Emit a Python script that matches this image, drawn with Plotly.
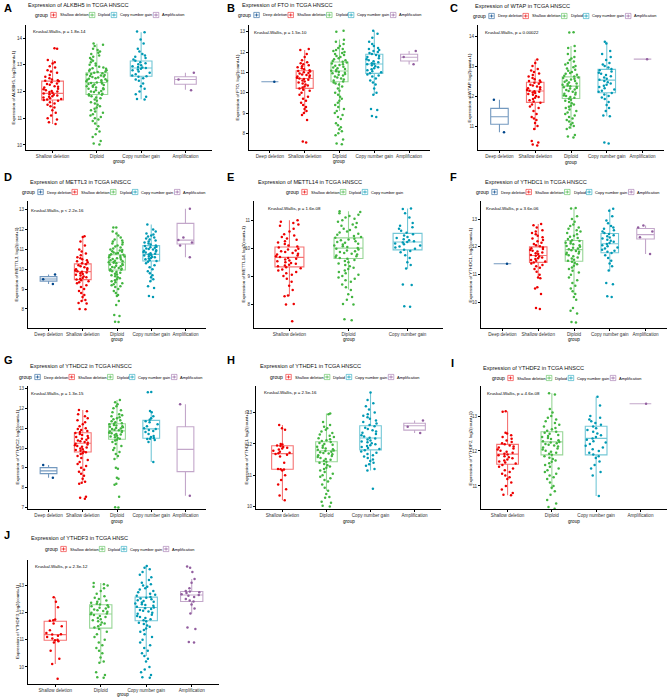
import plotly.graph_objects as go

W, H = 669, 698
FONT = "Liberation Sans, Arial, sans-serif"

# ---------------- categories / colours ----------------
GROUP_COLORS = {
    "Deep deletion": "#00468B",
    "Shallow deletion": "#ED0000",
    "Diploid": "#42B540",
    "Copy number gain": "#0099B4",
    "Amplification": "#925E9F",
}
G5 = ["Deep deletion", "Shallow deletion", "Diploid", "Copy number gain", "Amplification"]
G4 = ["Shallow deletion", "Diploid", "Copy number gain", "Amplification"]
G3 = ["Shallow deletion", "Diploid", "Copy number gain"]

# ---------------- A: ALKBH5 ----------------
ALKBH5_q1 = [11.68, 11.89, 12.57, 12.27]
ALKBH5_med = [11.93, 12.34, 12.88, 12.45]
ALKBH5_q3 = [12.39, 12.70, 13.14, 12.55]
ALKBH5_lo = [10.78, 10.70, 11.71, 12.07]
ALKBH5_hi = [13.19, 13.79, 14.22, 12.70]
ALKBH5_sh = [13.62,13.6,13.18,13.1,13.05,12.95,12.9,12.8,12.75,12.7,12.62,12.55,12.5,12.45,12.42,12.4,12.38,12.35,12.3,12.28,12.25,12.2,12.18,12.15,12.1,12.08,12.05,12.02,12.0,11.98,11.95,11.93,11.9,11.88,11.85,11.82,11.8,11.78,11.75,11.72,11.7,11.68,11.65,11.6,11.55,11.5,11.45,11.4,11.3,11.2,11.1,11.0,10.95,10.85,10.78]
ALKBH5_di = [13.8,13.75,13.7,13.6,13.55,13.5,13.45,13.4,13.35,13.3,13.25,13.2,13.15,13.1,13.05,13.0,12.97,12.93,12.9,12.87,12.85,12.82,12.8,12.78,12.75,12.73,12.7,12.68,12.66,12.64,12.62,12.6,12.58,12.56,12.54,12.52,12.5,12.48,12.46,12.44,12.42,12.4,12.38,12.36,12.34,12.32,12.3,12.28,12.26,12.24,12.22,12.2,12.18,12.15,12.12,12.1,12.08,12.05,12.02,12.0,11.98,11.95,11.92,11.9,11.88,11.85,11.82,11.78,11.75,11.7,11.65,11.6,11.55,11.5,11.45,11.4,11.35,11.3,11.25,11.2,11.15,11.1,11.05,11.0,10.95,10.9,10.8,10.7,10.6,10.5,10.4,10.3,10.15,10.05,10.02]
ALKBH5_cn = [14.25,14.22,13.95,13.8,13.6,13.5,13.4,13.35,13.3,13.25,13.2,13.15,13.1,13.06,13.02,12.98,12.95,12.92,12.9,12.88,12.85,12.82,12.8,12.75,12.7,12.65,12.6,12.57,12.55,12.5,12.45,12.4,12.3,12.2,12.1,12.0,11.9,11.8,11.72,11.7]
ALKBH5_am = [12.7, 12.45, 12.05]

# ---------------- B: FTO ----------------
FTO_q1 = [10.54, 10.21, 10.54, 10.95, 11.56]
FTO_med = [10.54, 10.70, 11.07, 11.41, 11.74]
FTO_q3 = [10.54, 11.08, 11.51, 11.89, 11.89]
FTO_lo = [10.54, 8.98, 9.10, 9.89, 11.39]
FTO_hi = [10.54, 12.10, 12.62, 13.05, 12.05]
FTO_dd = [10.54]
FTO_sh = [12.15,12.1,11.9,11.75,11.6,11.5,11.45,11.4,11.35,11.3,11.25,11.2,11.15,11.1,11.07,11.04,11.0,10.97,10.94,10.9,10.87,10.84,10.8,10.77,10.74,10.7,10.67,10.64,10.6,10.55,10.5,10.45,10.4,10.35,10.3,10.25,10.2,10.15,10.1,10.0,9.9,9.8,9.7,9.6,9.5,9.4,9.3,9.2,9.1,9.0,8.9,8.65,7.6,7.55]
FTO_di = [13.05,13.0,12.6,12.5,12.4,12.3,12.2,12.15,12.1,12.05,12.0,11.95,11.9,11.85,11.8,11.75,11.7,11.65,11.6,11.56,11.52,11.48,11.44,11.4,11.36,11.32,11.28,11.24,11.2,11.16,11.12,11.08,11.05,11.02,10.98,10.95,10.92,10.88,10.85,10.8,10.75,10.7,10.65,10.6,10.55,10.5,10.45,10.4,10.3,10.2,10.1,10.0,9.9,9.8,9.7,9.6,9.5,9.4,9.3,9.2,9.1,9.0,8.9,8.8,8.7,8.5,8.4,8.3,8.2,8.1,8.0,7.9,7.7,7.5,7.46]
FTO_cn = [13.05,12.9,12.7,12.5,12.4,12.3,12.2,12.15,12.1,12.05,12.0,11.95,11.9,11.85,11.8,11.75,11.7,11.65,11.6,11.55,11.5,11.45,11.42,11.4,11.35,11.3,11.25,11.2,11.15,11.1,11.05,11.0,10.95,10.9,10.85,10.8,10.7,10.6,10.5,10.4,10.2,10.0,9.9,9.2,9.15,8.85,8.8]
FTO_am = [12.05, 11.75, 11.4]

# ---------------- C: WTAP ----------------
WTAP_q1 = [11.06, 11.79, 11.92, 12.11, 13.23]
WTAP_med = [11.31, 12.17, 12.33, 12.53, 13.23]
WTAP_q3 = [11.59, 12.46, 12.64, 12.89, 13.23]
WTAP_lo = [10.79, 10.87, 10.90, 11.33, 13.23]
WTAP_hi = [11.88, 13.22, 13.67, 13.81, 13.23]
WTAP_dd = [11.88, 10.79]
WTAP_sh = [13.22,13.1,13.0,12.9,12.85,12.8,12.75,12.7,12.65,12.6,12.56,12.52,12.5,12.47,12.44,12.41,12.38,12.35,12.32,12.29,12.26,12.23,12.2,12.18,12.16,12.14,12.12,12.1,12.07,12.04,12.0,11.97,11.94,11.9,11.86,11.82,11.78,11.72,11.65,11.6,11.5,11.4,11.3,11.25,11.2,11.1,11.0,10.9,10.5,10.45,10.38,10.35]
WTAP_di = [14.13,14.12,13.67,13.6,13.5,13.4,13.3,13.25,13.2,13.15,13.1,13.05,13.0,12.96,12.92,12.88,12.84,12.8,12.77,12.74,12.71,12.68,12.65,12.62,12.6,12.58,12.55,12.52,12.5,12.48,12.45,12.42,12.4,12.38,12.35,12.33,12.31,12.29,12.27,12.25,12.22,12.2,12.17,12.14,12.11,12.08,12.05,12.02,12.0,11.97,11.94,11.91,11.88,11.84,11.8,11.76,11.72,11.68,11.64,11.6,11.55,11.5,11.45,11.4,11.35,11.3,11.25,11.2,11.15,11.1,11.05,11.0,10.95,10.9,10.7,10.65,10.62]
WTAP_cn = [13.81,13.75,13.5,13.4,13.3,13.2,13.1,13.05,13.0,12.95,12.9,12.86,12.82,12.78,12.74,12.7,12.66,12.62,12.58,12.54,12.5,12.46,12.42,12.38,12.34,12.3,12.26,12.22,12.18,12.14,12.1,12.05,12.0,11.95,11.9,11.8,11.7,11.6,11.5,11.35,11.33,10.45,10.42]
WTAP_am = [13.23]

# ---------------- D: METTL3 ----------------
METTL3_q1 = [9.40, 9.48, 9.96, 10.42, 11.27]
METTL3_med = [9.51, 9.88, 10.35, 10.75, 11.47]
METTL3_q3 = [9.63, 10.27, 10.73, 11.19, 12.31]
METTL3_lo = [9.26, 8.39, 8.65, 9.40, 10.60]
METTL3_hi = [9.73, 11.66, 11.90, 12.25, 13.05]
METTL3_dd = [9.73, 9.5, 9.26]
METTL3_sh = [11.66,11.62,11.4,11.2,11.0,10.9,10.8,10.7,10.6,10.55,10.5,10.45,10.4,10.35,10.3,10.25,10.2,10.15,10.1,10.05,10.0,9.97,9.94,9.9,9.87,9.84,9.8,9.76,9.72,9.68,9.64,9.6,9.56,9.52,9.48,9.44,9.4,9.35,9.3,9.2,9.1,9.0,8.9,8.8,8.7,8.6,8.45,8.4,8.3,8.28,8.0,7.98]
METTL3_di = [12.11,12.1,11.9,11.8,11.7,11.6,11.5,11.45,11.4,11.35,11.3,11.25,11.2,11.15,11.1,11.05,11.0,10.97,10.94,10.91,10.88,10.85,10.82,10.79,10.76,10.73,10.7,10.67,10.64,10.61,10.58,10.55,10.52,10.49,10.46,10.43,10.4,10.37,10.35,10.33,10.3,10.27,10.24,10.21,10.18,10.15,10.12,10.09,10.06,10.03,10.0,9.97,9.94,9.9,9.86,9.82,9.78,9.74,9.7,9.65,9.6,9.55,9.5,9.45,9.4,9.35,9.3,9.25,9.2,9.15,9.1,9.0,8.9,8.8,8.7,8.65,8.4,8.2,7.7,7.65,7.35,7.34]
METTL3_cn = [12.25,12.0,11.9,11.8,11.75,11.7,11.65,11.6,11.55,11.5,11.45,11.4,11.35,11.3,11.25,11.2,11.17,11.14,11.11,11.08,11.05,11.02,10.99,10.96,10.93,10.9,10.87,10.84,10.81,10.78,10.75,10.72,10.69,10.66,10.63,10.6,10.57,10.54,10.5,10.46,10.42,10.38,10.3,10.2,10.1,10.0,9.9,9.8,9.7,9.6,9.5,9.4,9.15,9.05,8.65,8.6]
METTL3_am = [13.05, 11.6, 11.47, 11.35, 11.2, 10.6]

# ---------------- E: METTL14 ----------------
METTL14_q1 = [9.33, 9.63, 9.94]
METTL14_med = [9.67, 10.00, 10.22]
METTL14_q3 = [10.04, 10.37, 10.53]
METTL14_lo = [8.28, 8.52, 9.27]
METTL14_hi = [11.00, 11.32, 11.42]
METTL14_sh = [11.0,10.95,10.9,10.85,10.8,10.7,10.6,10.5,10.45,10.4,10.35,10.3,10.25,10.2,10.15,10.1,10.06,10.02,9.98,9.95,9.92,9.89,9.86,9.83,9.8,9.77,9.74,9.71,9.68,9.65,9.62,9.59,9.56,9.53,9.5,9.47,9.44,9.41,9.38,9.35,9.32,9.28,9.24,9.2,9.15,9.1,9.05,9.0,8.9,8.8,8.65,8.5,8.3,8.28,8.0,7.98,7.38]
METTL14_di = [11.32,11.3,11.25,11.2,11.15,11.1,11.05,11.0,10.95,10.9,10.85,10.8,10.75,10.7,10.65,10.6,10.56,10.52,10.48,10.44,10.4,10.37,10.34,10.31,10.28,10.25,10.22,10.19,10.16,10.13,10.1,10.07,10.04,10.01,9.98,9.95,9.92,9.89,9.86,9.83,9.8,9.77,9.74,9.71,9.68,9.65,9.62,9.58,9.54,9.5,9.45,9.4,9.35,9.3,9.25,9.2,9.15,9.1,9.05,9.0,8.95,8.9,8.85,8.8,8.7,8.6,8.5,8.35,8.25,8.15,8.0,7.98,7.45,7.42]
METTL14_cn = [11.42,11.4,11.25,11.1,10.9,10.8,10.75,10.7,10.62,10.55,10.5,10.45,10.4,10.36,10.32,10.28,10.25,10.22,10.2,10.17,10.14,10.1,10.06,10.02,9.98,9.94,9.9,9.85,9.75,9.65,9.5,9.4,9.27,8.7,8.68,7.92,7.9]

# ---------------- F: YTHDC1 ----------------
YTHDC1_q1 = [11.39, 11.44, 11.48, 11.79, 12.28]
YTHDC1_med = [11.39, 11.69, 11.90, 12.11, 12.44]
YTHDC1_q3 = [11.39, 12.00, 12.23, 12.48, 12.66]
YTHDC1_lo = [11.39, 10.87, 10.30, 11.12, 11.74]
YTHDC1_hi = [11.39, 12.82, 13.38, 13.37, 12.77]
YTHDC1_dd = [11.39]
YTHDC1_sh = [12.82,12.78,12.7,12.6,12.55,12.5,12.45,12.4,12.35,12.3,12.25,12.2,12.15,12.1,12.06,12.02,11.98,11.95,11.92,11.89,11.86,11.83,11.8,11.77,11.74,11.71,11.68,11.65,11.62,11.59,11.56,11.53,11.5,11.47,11.44,11.4,11.35,11.3,11.25,11.2,11.1,11.0,10.9,10.87,10.55,10.5,10.3,9.8,9.76]
YTHDC1_di = [13.4,13.38,13.1,13.0,12.9,12.8,12.75,12.7,12.65,12.6,12.55,12.5,12.45,12.4,12.36,12.32,12.28,12.24,12.21,12.18,12.15,12.12,12.09,12.06,12.03,12.0,11.97,11.94,11.91,11.88,11.85,11.82,11.79,11.76,11.73,11.7,11.66,11.62,11.58,11.54,11.5,11.46,11.42,11.37,11.32,11.26,11.2,11.14,11.08,11.0,10.9,10.8,10.7,10.6,10.5,10.4,10.3,10.2,10.1,9.8,9.7,9.6,9.3,9.28]
YTHDC1_cn = [13.37,13.3,13.1,12.95,12.85,12.75,12.7,12.65,12.6,12.55,12.5,12.46,12.42,12.38,12.34,12.3,12.26,12.22,12.18,12.14,12.1,12.06,12.02,11.98,11.94,11.9,11.86,11.82,11.78,11.7,11.6,11.5,11.4,11.3,11.15,10.7,10.65,10.22,10.2]
YTHDC1_am = [12.77, 12.7, 12.55, 12.35, 11.74]

# ---------------- G: YTHDC2 ----------------
YTHDC2_q1 = [8.71, 9.80, 10.44, 10.49, 8.81]
YTHDC2_med = [8.85, 10.24, 10.86, 10.96, 9.93]
YTHDC2_q3 = [9.01, 10.77, 11.22, 11.39, 11.07]
YTHDC2_lo = [8.50, 8.30, 9.45, 9.30, 7.60]
YTHDC2_hi = [9.15, 11.91, 12.41, 11.86, 12.20]
YTHDC2_dd = [9.15, 8.5]
YTHDC2_sh = [11.91,11.85,11.7,11.6,11.5,11.4,11.3,11.2,11.1,11.0,10.95,10.9,10.85,10.8,10.75,10.7,10.65,10.6,10.55,10.5,10.46,10.42,10.38,10.34,10.3,10.26,10.22,10.18,10.14,10.1,10.06,10.02,9.98,9.94,9.9,9.86,9.82,9.78,9.74,9.7,9.6,9.5,9.4,9.3,9.2,9.1,9.0,8.9,8.8,8.7,8.6,8.45,8.3,8.25,8.2,7.55,7.5,7.45]
YTHDC2_di = [12.41,12.3,12.2,12.1,12.0,11.9,11.8,11.7,11.65,11.6,11.55,11.5,11.45,11.4,11.35,11.3,11.25,11.22,11.19,11.16,11.13,11.1,11.07,11.04,11.01,10.98,10.95,10.92,10.89,10.86,10.83,10.8,10.77,10.74,10.71,10.68,10.65,10.62,10.58,10.54,10.5,10.46,10.42,10.38,10.3,10.2,10.1,10.0,9.9,9.8,9.7,9.6,9.45,9.0,8.95,8.5,8.45,8.2,8.15,7.55,7.02,7.0]
YTHDC2_cn = [12.82,12.8,11.86,11.8,11.6,11.5,11.42,11.35,11.3,11.2,11.1,11.0,10.96,10.9,10.85,10.8,10.7,10.6,10.55,10.5,10.47,10.45,10.4,10.3,9.3]
YTHDC2_am = [12.2, 7.6]

# ---------------- H: YTHDF1 ----------------
YTHDF1_q1 = [11.19, 11.43, 11.81, 12.44]
YTHDF1_med = [11.69, 11.78, 12.19, 12.58]
YTHDF1_q3 = [11.94, 12.07, 12.58, 12.66]
YTHDF1_lo = [10.20, 10.50, 11.15, 12.35]
YTHDF1_hi = [12.60, 12.97, 13.64, 12.75]
YTHDF1_sh = [12.6,12.5,12.45,12.0,11.98,11.95,11.93,11.9,11.88,11.85,11.82,11.78,11.75,11.72,11.7,11.68,11.65,11.6,11.4,11.2,11.19,11.18,11.15,11.0,10.85,10.7,10.55,10.35,10.2]
YTHDF1_di = [12.97,12.95,12.7,12.6,12.55,12.5,12.45,12.4,12.35,12.3,12.26,12.22,12.18,12.15,12.12,12.09,12.06,12.03,12.0,11.97,11.94,11.91,11.88,11.85,11.83,11.81,11.79,11.77,11.75,11.73,11.71,11.69,11.67,11.64,11.61,11.58,11.55,11.52,11.49,11.46,11.43,11.4,11.36,11.32,11.28,11.24,11.2,11.15,11.1,11.05,11.0,10.95,10.9,10.85,10.8,10.7,10.6,10.5,10.4,10.3,10.28,10.15,10.12,10.02,10.0]
YTHDF1_cn = [13.64,13.4,13.3,13.2,13.1,13.0,12.95,12.9,12.85,12.8,12.75,12.7,12.65,12.6,12.56,12.52,12.48,12.44,12.4,12.36,12.32,12.28,12.24,12.2,12.17,12.14,12.11,12.08,12.05,12.02,11.99,11.96,11.93,11.9,11.87,11.84,11.8,11.76,11.72,11.68,11.64,11.6,11.55,11.5,11.45,11.4,11.35,11.3,11.2,11.15,10.57]
YTHDF1_am = [12.75, 12.55, 12.35]

# ---------------- I: YTHDF2 ----------------
YTHDF2_q1 = [11.62, 11.89, 11.89, 13.35]
YTHDF2_med = [11.91, 12.26, 12.36, 13.35]
YTHDF2_q3 = [12.19, 12.55, 12.71, 13.35]
YTHDF2_lo = [10.73, 10.90, 10.71, 13.35]
YTHDF2_hi = [13.14, 13.65, 13.55, 13.35]
YTHDF2_sh = [13.14,13.12,12.52,12.5,12.45,12.4,12.35,12.3,12.26,12.22,12.19,12.16,12.13,12.1,12.07,12.04,12.01,11.98,11.95,11.92,11.9,11.88,11.85,11.82,11.79,11.76,11.73,11.7,11.67,11.64,11.6,11.55,11.5,11.45,11.4,11.35,11.3,11.25,11.2,11.1,11.0,10.9,10.8,10.75,10.73]
YTHDF2_di = [13.65,13.62,13.2,13.1,13.0,12.95,12.9,12.85,12.8,12.75,12.7,12.66,12.62,12.58,12.55,12.52,12.49,12.46,12.43,12.4,12.37,12.34,12.31,12.28,12.26,12.24,12.22,12.2,12.18,12.16,12.13,12.1,12.07,12.04,12.01,11.98,11.95,11.92,11.89,11.85,11.81,11.77,11.73,11.69,11.65,11.6,11.55,11.5,11.45,11.4,11.35,11.3,11.25,11.2,11.1,11.0,10.95,10.85,10.75,10.6,10.5,10.4,10.35]
YTHDF2_cn = [13.55,13.3,13.0,12.95,12.9,12.85,12.8,12.75,12.7,12.65,12.6,12.55,12.5,12.45,12.4,12.36,12.32,12.28,12.24,12.2,12.15,12.1,12.05,12.0,11.95,11.9,11.85,11.8,11.7,11.6,11.5,11.4,11.3,10.71]
YTHDF2_am = [13.35]

# ---------------- J: YTHDF3 ----------------
YTHDF3_q1 = [10.98, 11.43, 11.70, 12.41]
YTHDF3_med = [11.19, 11.95, 12.19, 12.65]
YTHDF3_q3 = [11.68, 12.29, 12.57, 12.78]
YTHDF3_lo = [10.11, 10.15, 10.40, 11.97]
YTHDF3_hi = [12.57, 13.09, 13.72, 13.24]
YTHDF3_sh = [12.57,12.4,12.2,11.75,11.72,11.7,11.6,11.5,11.35,11.25,11.2,11.19,11.15,11.1,11.05,11.0,10.98,10.95,10.9,10.6,10.3,10.11,9.56]
YTHDF3_di = [13.09,13.05,13.0,12.95,12.9,12.8,12.7,12.6,12.55,12.5,12.45,12.4,12.36,12.33,12.3,12.27,12.24,12.21,12.18,12.15,12.12,12.09,12.06,12.03,12.0,11.97,11.94,11.91,11.88,11.84,11.8,11.76,11.72,11.68,11.64,11.6,11.55,11.5,11.45,11.4,11.3,11.2,11.1,11.0,10.9,10.8,10.7,10.6,10.5,10.35,10.2,10.15,9.8,9.7,9.62,9.6]
YTHDF3_cn = [13.72,13.65,13.6,13.5,13.4,13.3,13.2,13.1,13.05,13.0,12.95,12.9,12.85,12.8,12.75,12.7,12.66,12.62,12.58,12.55,12.52,12.49,12.46,12.43,12.4,12.37,12.34,12.31,12.28,12.25,12.22,12.19,12.16,12.13,12.1,12.07,12.04,12.0,11.96,11.92,11.88,11.84,11.8,11.76,11.72,11.68,11.63,11.58,11.53,11.48,11.42,11.36,11.3,11.2,11.1,11.0,10.9,10.8,10.7,10.6,10.5,10.4,10.3,10.2,10.0,9.9,9.8,9.7,9.62,9.6]
YTHDF3_am = [13.7,13.65,13.5,13.24,13.1,12.9,12.8,12.78,12.75,12.72,12.68,12.65,12.62,12.58,12.5,12.45,12.41,12.3,12.15,11.97,11.45,11.4,10.92,10.9]

# ---------------- panel text ----------------
PANELS = [
    dict(letter="A", gene="ALKBH5", cohort="HNSCC", groups=G4, p="p = 1.8e-14",
         stats=(ALKBH5_q1, ALKBH5_med, ALKBH5_q3, ALKBH5_lo, ALKBH5_hi),
         pts=[ALKBH5_sh, ALKBH5_di, ALKBH5_cn, ALKBH5_am]),
    dict(letter="B", gene="FTO", cohort="HNSCC", groups=G5, p="p = 1.5e-10",
         stats=(FTO_q1, FTO_med, FTO_q3, FTO_lo, FTO_hi),
         pts=[FTO_dd, FTO_sh, FTO_di, FTO_cn, FTO_am]),
    dict(letter="C", gene="WTAP", cohort="HNSCC", groups=G5, p="p = 0.00022",
         stats=(WTAP_q1, WTAP_med, WTAP_q3, WTAP_lo, WTAP_hi),
         pts=[WTAP_dd, WTAP_sh, WTAP_di, WTAP_cn, WTAP_am]),
    dict(letter="D", gene="METTL3", cohort="HNSCC", groups=G5, p="p < 2.2e-16",
         stats=(METTL3_q1, METTL3_med, METTL3_q3, METTL3_lo, METTL3_hi),
         pts=[METTL3_dd, METTL3_sh, METTL3_di, METTL3_cn, METTL3_am]),
    dict(letter="E", gene="METTL14", cohort="HNSCC", groups=G3, p="p = 1.6e-08",
         stats=(METTL14_q1, METTL14_med, METTL14_q3, METTL14_lo, METTL14_hi),
         pts=[METTL14_sh, METTL14_di, METTL14_cn]),
    dict(letter="F", gene="YTHDC1", cohort="HNSCC", groups=G5, p="p = 3.6e-06",
         stats=(YTHDC1_q1, YTHDC1_med, YTHDC1_q3, YTHDC1_lo, YTHDC1_hi),
         pts=[YTHDC1_dd, YTHDC1_sh, YTHDC1_di, YTHDC1_cn, YTHDC1_am]),
    dict(letter="G", gene="YTHDC2", cohort="HNSCC", groups=G5, p="p = 1.3e-15",
         stats=(YTHDC2_q1, YTHDC2_med, YTHDC2_q3, YTHDC2_lo, YTHDC2_hi),
         pts=[YTHDC2_dd, YTHDC2_sh, YTHDC2_di, YTHDC2_cn, YTHDC2_am]),
    dict(letter="H", gene="YTHDF1", cohort="HNSCC", groups=G4, p="p = 2.5e-16",
         stats=(YTHDF1_q1, YTHDF1_med, YTHDF1_q3, YTHDF1_lo, YTHDF1_hi),
         pts=[YTHDF1_sh, YTHDF1_di, YTHDF1_cn, YTHDF1_am]),
    dict(letter="I", gene="YTHDF2", cohort="HNSCC", groups=G4, p="p = 4.6e-08",
         stats=(YTHDF2_q1, YTHDF2_med, YTHDF2_q3, YTHDF2_lo, YTHDF2_hi),
         pts=[YTHDF2_sh, YTHDF2_di, YTHDF2_cn, YTHDF2_am]),
    dict(letter="J", gene="YTHDF3", cohort="HNSC", groups=G4, p="p = 2.3e-12",
         stats=(YTHDF3_q1, YTHDF3_med, YTHDF3_q3, YTHDF3_lo, YTHDF3_hi),
         pts=[YTHDF3_sh, YTHDF3_di, YTHDF3_cn, YTHDF3_am]),
]

# ---------------- geometry (pixels): plot box, y range, text anchors ----------------
GEOM = [
    dict(x0=26, x1=212, top=25, bot=150, yr=(9.81, 14.49), letter=(2, 0), title=(26, 5), leg=(33, 15), ytx=13, ptx=(31, 31), gy=161),
    dict(x0=249, x1=430, top=25, bot=150, yr=(7.18, 13.33), letter=(225, 0), title=(240, 5), leg=(236, 15), ytx=237, ptx=(252, 32), gy=161),
    dict(x0=478, x1=664, top=25, bot=150, yr=(10.20, 14.37), letter=(448, 0), title=(473, 6), leg=(471, 16), ytx=469, ptx=(483, 32), gy=162),
    dict(x0=28, x1=206, top=201, bot=328, yr=(7.04, 13.44), letter=(2, 169), title=(28, 182), leg=(20, 192), ytx=16, ptx=(29, 210), gy=339),
    dict(x0=254, x1=443, top=201, bot=328, yr=(7.14, 11.69), letter=(225, 169), title=(256, 182), leg=(284, 192), ytx=243, ptx=(266, 209), gy=339),
    dict(x0=481, x1=667, top=201, bot=328, yr=(9.08, 13.65), letter=(448, 169), title=(483, 182), leg=(474, 192), ytx=470, ptx=(484, 209), gy=339),
    dict(x0=28, x1=206, top=386, bot=509, yr=(6.93, 13.12), letter=(2, 352), title=(28, 366), leg=(17, 377), ytx=17, ptx=(29, 393), gy=521),
    dict(x0=256, x1=441, top=386, bot=509, yr=(9.92, 13.85), letter=(225, 352), title=(258, 366), leg=(268, 377), ytx=246, ptx=(262, 392), gy=521),
    dict(x0=481, x1=667, top=386, bot=509, yr=(10.34, 13.86), letter=(449, 355), title=(481, 368), leg=(490, 378), ytx=470, ptx=(485, 393), gy=521),
    dict(x0=28, x1=219, top=560, bot=684, yr=(9.37, 13.94), letter=(2, 527), title=(29, 538), leg=(43, 549), ytx=17, ptx=(33, 566), gy=694.5),
]

# Arial-like character widths (em) for legend layout
CW = {' ': .278, 'a': .556, 'b': .556, 'c': .5, 'd': .556, 'e': .556, 'f': .278, 'g': .556, 'h': .556,
      'i': .222, 'l': .222, 'm': .833, 'n': .556, 'o': .556, 'p': .556, 'r': .333, 's': .5, 't': .278,
      'u': .556, 'w': .722, 'y': .5, 'A': .667, 'C': .722, 'D': .722, 'S': .667}

LEG_FS = 3.95


def tw(s, f):
    return sum(CW.get(c, 0.556) for c in s) * f


def px(x):
    return x / W


def py(y):
    return 1 - y / H


def rgba(hexc, a):
    h = hexc.lstrip('#')
    return "rgba(%d,%d,%d,%.2f)" % (int(h[0:2], 16), int(h[2:4], 16), int(h[4:6], 16), a)


fig = go.Figure()
annotations = []
shapes = []
layout_axes = {}

for k, (P, Gm) in enumerate(zip(PANELS, GEOM)):
    s = "" if k == 0 else str(k + 1)
    xa, ya = "x" + s, "y" + s
    groups = P["groups"]
    q1, med, q3, lo, hi = P["stats"]
    for gi, g in enumerate(groups):
        col = GROUP_COLORS[g]
        fig.add_trace(go.Box(
            x=[g], q1=[q1[gi]], median=[med[gi]], q3=[q3[gi]],
            lowerfence=[lo[gi]], upperfence=[hi[gi]],
            boxpoints=False, whiskerwidth=0,
            line=dict(color=rgba(col, 0.55), width=1.1),
            fillcolor="rgba(255,255,255,0)",
            xaxis=xa, yaxis=ya, showlegend=False, name=g))
        vals = P["pts"][gi]
        fig.add_trace(go.Box(
            x=[g] * len(vals), y=vals,
            boxpoints="all", jitter=1.0, pointpos=0, whiskerwidth=0,
            marker=dict(color=col, size=2.5, line=dict(width=0)),
            line=dict(width=0, color="rgba(0,0,0,0)"),
            fillcolor="rgba(0,0,0,0)", hoveron="points",
            xaxis=xa, yaxis=ya, showlegend=False, name=g))

    n = len(groups)
    layout_axes["xaxis" + s] = dict(
        domain=[px(Gm["x0"]), px(Gm["x1"])], anchor=ya, type="category",
        categoryorder="array", categoryarray=groups, range=[-0.6, n - 0.4],
        showline=True, linecolor="#000", linewidth=0.8, ticks="outside", ticklen=2,
        tickwidth=0.7, tickcolor="#000", tickangle=0,
        tickfont=dict(size=4.6, color="#333", family=FONT),
        showgrid=False, zeroline=False, fixedrange=True)
    layout_axes["yaxis" + s] = dict(
        domain=[py(Gm["bot"]), py(Gm["top"])], anchor=xa, range=list(Gm["yr"]),
        dtick=1, tick0=0, showline=True, linecolor="#000", linewidth=0.8,
        ticks="outside", ticklen=2, tickwidth=0.7, tickcolor="#000",
        tickfont=dict(size=4.6, color="#333", family=FONT),
        showgrid=False, zeroline=False, fixedrange=True)

    # panel letter
    annotations.append(dict(text="<b>%s</b>" % P["letter"], x=px(Gm["letter"][0]), y=py(Gm["letter"][1]),
                            xref="paper", yref="paper", xanchor="left", yanchor="top", showarrow=False,
                            font=dict(size=11, color="#000", family=FONT)))
    # title
    annotations.append(dict(text="Expression of %s in TCGA %s" % (P["gene"], P["cohort"]),
                            x=px(Gm["title"][0]), y=py(Gm["title"][1]), xref="paper", yref="paper",
                            xanchor="left", yanchor="middle", showarrow=False,
                            font=dict(size=5.6, color="#111", family=FONT)))
    # kruskal text
    annotations.append(dict(text="Kruskal-Wallis, " + P["p"], x=px(Gm["ptx"][0]), y=py(Gm["ptx"][1]),
                            xref="paper", yref="paper", xanchor="left", yanchor="middle", showarrow=False,
                            font=dict(size=4.4, color="#000", family=FONT)))
    # y title
    annotations.append(dict(text="Expression of %s, log2(count+1)" % P["gene"], textangle=-90,
                            x=px(Gm["ytx"]), y=py((Gm["top"] + Gm["bot"]) / 2), xref="paper", yref="paper",
                            xanchor="center", yanchor="middle", showarrow=False,
                            font=dict(size=4.4, color="#000", family=FONT)))
    # x title
    annotations.append(dict(text="group", x=px((Gm["x0"] + Gm["x1"]) / 2), y=py(Gm["gy"]),
                            xref="paper", yref="paper", xanchor="center", yanchor="middle", showarrow=False,
                            font=dict(size=4.6, color="#000", family=FONT)))
    # legend
    lx, ly = Gm["leg"]
    annotations.append(dict(text="group", x=px(lx), y=py(ly), xref="paper", yref="paper",
                            xanchor="left", yanchor="middle", showarrow=False,
                            font=dict(size=5.0, color="#000", family=FONT)))
    ix = lx + tw("group", 5.0) + 5
    for g in groups:
        col = GROUP_COLORS[g]
        shapes.append(dict(type="rect", xref="paper", yref="paper", x0=px(ix), x1=px(ix + 5.5),
                           y0=py(ly + 2.6), y1=py(ly - 2.6), line=dict(color=rgba(col, 0.75), width=0.7),
                           fillcolor="white"))
        shapes.append(dict(type="line", xref="paper", yref="paper", x0=px(ix + 0.8), x1=px(ix + 4.7),
                           y0=py(ly), y1=py(ly), line=dict(color=col, width=0.7)))
        shapes.append(dict(type="line", xref="paper", yref="paper", x0=px(ix + 2.75), x1=px(ix + 2.75),
                           y0=py(ly + 1.6), y1=py(ly - 1.6), line=dict(color=col, width=0.7)))
        annotations.append(dict(text=g, x=px(ix + 7.0), y=py(ly), xref="paper", yref="paper",
                                xanchor="left", yanchor="middle", showarrow=False,
                                font=dict(size=LEG_FS, color="#000", family=FONT)))
        ix += 7.0 + tw(g, LEG_FS) + 2.8

fig.update_layout(
    width=W, height=H, margin=dict(l=0, r=0, t=0, b=0),
    paper_bgcolor="white", plot_bgcolor="white",
    showlegend=False, boxmode="overlay", boxgap=0.3,
    font=dict(family=FONT, color="#000"),
    annotations=annotations, shapes=shapes,
    **layout_axes)

fig.write_html("out.html", config={"displayModeBar": False},
               post_script="document.body.style.margin='0';document.body.style.padding='0';")
